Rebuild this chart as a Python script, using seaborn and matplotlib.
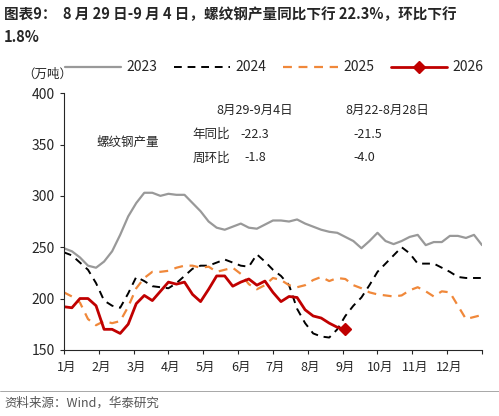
import matplotlib
matplotlib.use("Agg")
import matplotlib.pyplot as plt
import seaborn as sns
import numpy as np
import pandas as pd
from matplotlib.lines import Line2D

sns.set_style("ticks")
plt.rcParams['font.family'] = ['Noto Sans CJK SC', 'DejaVu Sans']

months = ["1月","2月","3月","4月","5月","6月","7月","8月","9月","10月","11月","12月"]
y2023 = [249,246,240,232,230,236,246,262,280,293,303,303,300,302,301,301,293,285,275,269,267,270,273,269,268,272,276,276,275,277,273,270,267,265,264,260,256,249,256,264,256,253,256,260,262,252,255,255,261,261,259,262,252]
y2024 = [245,242,235,228,215,198,193,191,205,221,217,212,211,210,215,222,229,232,232,235,238,235,232,231,243,236,228,222,213,190,176,166,163,162,170,183,193,201,213,226,234,242,250,244,234,234,234,230,226,221,220,220,220]
y2025 = [206,202,196,180,174,178,176,178,192,210,220,226,226,227,230,232,232,230,231,226,228,230,224,214,209,213,220,218,213,211,213,218,221,217,220,219,213,210,206,204,203,202,203,208,211,207,202,207,206,193,180,182,184]
y2026 = [192,191,200,200,193,170,170,166,175,195,203,198,207,216,214,216,204,197,209,222,222,212,216,219,213,217,206,197,202,201,189,183,181,176,172,170]

fig = plt.figure(figsize=(4.99,4.16), dpi=100)
ax = fig.add_axes([0.128,0.159,0.838,0.617])
def line(y, **kw):
    d = pd.DataFrame({"w": np.arange(len(y)), "v": y})
    sns.lineplot(data=d, x="w", y="v", ax=ax, **kw)
line(y2023, color="#999999", lw=1.6)
line(y2024, color="black", lw=1.4, dashes=(4,3))
line(y2025, color="#F0883A", lw=1.6, dashes=(4,3))
line(y2026, color="#C00000", lw=2.0)
ax.plot(len(y2026)-1, y2026[-1], marker="D", color="#C00000", ms=6)

ax.set_xlim(0,52)
ax.set_ylim(150,400)
ax.set_yticks([150,200,250,300,350,400])
ticks = np.linspace(0,52,13)
ax.set_xticks(ticks)
ax.set_xticklabels([])
for i,m in enumerate(months):
    ax.text(ticks[i]+0.3, 139, m, ha="center", va="top", fontsize=9)
ax.set_xlabel(""); ax.set_ylabel("")
ax.tick_params(labelsize=10, length=3)
sns.despine(ax=ax, top=True, right=True)

fig.text(0.008,0.985,"图表9：  8 月 29 日-9 月 4 日，螺纹钢产量同比下行 22.3%，环比下行\n1.8%",
         fontsize=10.5, fontweight="bold", va="top", linespacing=1.5)
fig.text(0.045,0.822,"（万吨）", fontsize=9, va="center")
handles=[Line2D([],[],color="#999999",lw=1.6),
         Line2D([],[],color="black",lw=1.4,dashes=(4,3)),
         Line2D([],[],color="#F0883A",lw=1.6,dashes=(4,3)),
         Line2D([],[],color="#C00000",lw=2,marker="D",ms=6)]
fig.legend(handles,["2023","2024","2025","2026"],loc="center",bbox_to_anchor=(0.55,0.838),
           ncol=4,frameon=False,fontsize=10,handlelength=4,columnspacing=1.2,handletextpad=0.4)
ax.text(4,352,"螺纹钢产量",fontsize=9,va="center")
ax.text(19,383,"8月29-9月4日",fontsize=9,va="center")
ax.text(35,383,"8月22-8月28日",fontsize=9,va="center")
ax.text(16,360,"年同比",fontsize=9,va="center")
ax.text(22,360,"-22.3",fontsize=9,va="center")
ax.text(36,360,"-21.5",fontsize=9,va="center")
ax.text(16,337,"周环比",fontsize=9,va="center")
ax.text(22.5,337,"-1.8",fontsize=9,va="center")
ax.text(36,337,"-4.0",fontsize=9,va="center")
fig.add_artist(Line2D([0.0,1.0],[0.06,0.06],color="#999999",lw=0.6))
fig.text(0.008,0.03,"资料来源：Wind，华泰研究",fontsize=9,color="#555555",va="center")
fig.savefig("out.png",dpi=100)
